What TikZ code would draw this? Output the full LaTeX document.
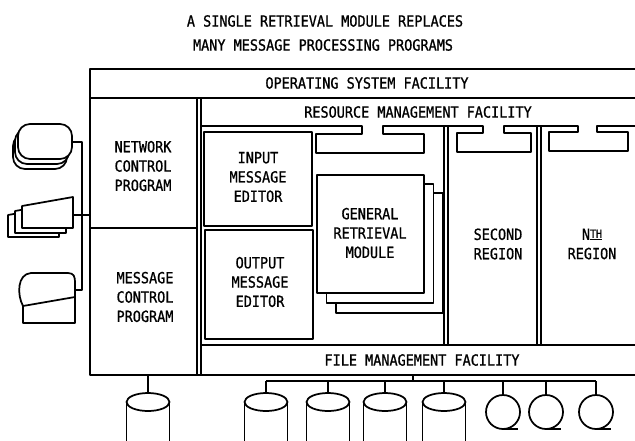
\documentclass[tikz,border=0pt]{standalone}
\usepackage{fontspec}
\newfontfamily\lettering{DejaVu Sans Mono}[FakeStretch=0.88, FakeBold=0.9]

\begin{document}
\begin{tikzpicture}[x=0.75pt, y=-0.75pt, line join=round,
  font=\lettering\fontsize{11.5}{14.5}\selectfont,
  frame/.style={line width=2pt},
  rule/.style={line width=1.3pt},
  lettered/.style={align=center, inner sep=0pt}]
  \useasboundingbox (0,0) rectangle (635,440);
  \clip (0,0) rectangle (635,440);
  \fill[white] (0,0) rectangle (635,440);

  % heading
  \node[lettered] (head1) at (325,21) {A SINGLE RETRIEVAL MODULE REPLACES};
  \node[lettered] (head2) at (323,45) {MANY MESSAGE PROCESSING PROGRAMS};

  % host frame, runs off to the right
  \draw[frame] (640,69) -- (90,69) -- (90,375) -- (640,375);
  \draw[rule] (90,98) -- (640,98);
  \draw[rule] (90,228) -- (197,228);
  \draw[rule] (197,98) -- (197,375) (201,98) -- (201,375);
  \draw[rule] (201,345) -- (640,345);
  % resource management bar, one slot hanging into each region
  \draw[rule] (201,126) -- (362,126) -- (362,134) -- (316,134) -- (316,153) -- (424,153)
    -- (424,134) -- (383,134) -- (383,126)
    -- (483,126) -- (483,133) -- (457,133) -- (457,152) -- (531,152) -- (531,133)
    -- (504,133) -- (504,126)
    -- (578,126) -- (578,132) -- (549,132) -- (549,151) -- (628,151) -- (628,132)
    -- (597,132) -- (597,126) -- (640,126);
  \foreach \s in {444,537}
    \draw[rule] (\s,126) -- (\s,345) (\s+4,126) -- (\s+4,345);

  % first region
  \draw[rule] (204,132) rectangle (312,226);
  \draw[rule] (205,230) rectangle (313,339);
  \foreach \k in {2,1,0}
    \draw[rule, fill=white] (317+9.5*\k,175+9*\k) rectangle (424+9.5*\k,293+10*\k);

  \node[lettered] (os) at (367,83) {OPERATING SYSTEM FACILITY};
  \node[lettered] (rmf) at (418,112) {RESOURCE MANAGEMENT FACILITY};
  \node[lettered] (fmf) at (422,360) {FILE MANAGEMENT FACILITY};
  \node[lettered] (ncp) at (143,166) {NETWORK\\CONTROL\\PROGRAM};
  \node[lettered] (mcp) at (145,297) {MESSAGE\\CONTROL\\PROGRAM};
  \node[lettered] (ime) at (258,177) {INPUT\\MESSAGE\\EDITOR};
  \node[lettered] (ome) at (260,282) {OUTPUT\\MESSAGE\\EDITOR};
  \node[lettered] (grm) at (370,233) {GENERAL\\RETRIEVAL\\MODULE};
  \node[lettered] (reg2) at (498,244) {SECOND\\REGION};
  \node[lettered] (regn) at (592,244)
    {N\raisebox{1.5pt}{\fontsize{8.5}{8.5}\selectfont\underline{TH}}\\REGION};

  % terminals on the network side
  \foreach \dx/\dy in {-5/10,-3/5,0/0}
    \draw[rule, fill=white, rounded corners=9] (18+\dx,124+\dy) rectangle (72+\dx,159+\dy);
  \foreach \dx/\dy in {-14/9,-7/5,0/0}
    \draw[rule, fill=white] (22+\dx,206+\dy) -- (73+\dx,197+\dy) -- (73+\dx,228+\dy)
      -- (22+\dx,228+\dy) -- cycle;
  \draw[rule] (75,297) -- (23,306) .. controls (17,295) and (17,274) .. (31,273) -- (68,273)
    .. controls (74,273) and (75,277) .. (75,282) -- cycle;
  \draw[rule] (23,306) -- (23,323) -- (75,323) -- (75,297);

  \coordinate (crt) at (72,142);
  \coordinate (prt) at (73,215);
  \coordinate (con) at (75,290);
  \coordinate (line) at (82,142);
  \coordinate (ncpin) at (90,215);
  \draw[rule] (crt) -- (crt -| line) -- (con -| line) -- (con);
  \draw[rule] (prt) -- (ncpin);

  % disks and tapes under the frame
  \foreach \c/\n in {148/disk0,266/disk1,328/disk2,385/disk3,444/disk4} {
    \draw[rule, fill=white] (\c-21.5,402) -- (\c-21.5,450) -- (\c+21.5,450) -- (\c+21.5,402);
    \draw[rule] (\c,402) ellipse [x radius=21.5, y radius=9];
    \coordinate (\n) at (\c,393);
  }
  \foreach \c/\n in {503/reel1,546/reel2,596/reel3} {
    \draw[rule] (\c,412) circle [radius=17];
    \draw[rule] (\c,429) -- (\c+15,429);
    \coordinate (\n) at (\c,395);
  }

  \coordinate (mcpout) at (148,375);
  \coordinate (fmfout) at (413,375);
  \coordinate (bus) at (413,381);
  \draw[rule] (mcpout) -- (disk0);
  \draw[rule] (fmfout) -- (bus);
  \draw[rule] (disk1 |- bus) -- (reel3 |- bus);
  \foreach \n in {disk1,disk2,disk3,disk4,reel1,reel2,reel3}
    \draw[rule] (\n |- bus) -- (\n);
\end{tikzpicture}
\end{document}
